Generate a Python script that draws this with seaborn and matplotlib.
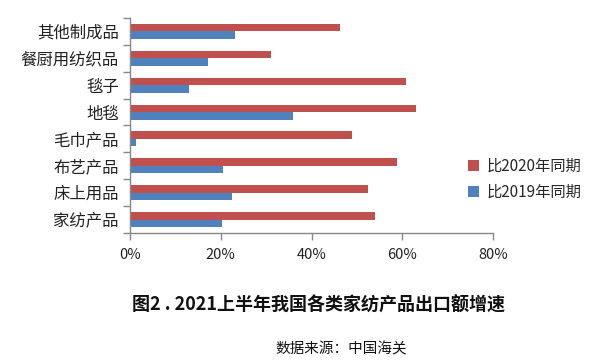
import matplotlib
matplotlib.use("Agg")
import matplotlib.pyplot as plt
import seaborn as sns
import pandas as pd
import numpy as np
from matplotlib.ticker import FixedLocator, PercentFormatter
from matplotlib.patches import Patch

categories = ["其他制成品", "餐厨用纺织品", "毯子", "地毯", "毛巾产品", "布艺产品", "床上用品", "家纺产品"]
vs2020 = [46.2, 31.0, 60.7, 63.0, 48.8, 58.7, 52.3, 54.0]
vs2019 = [23.1, 17.1, 13.0, 35.8, 1.3, 20.4, 22.4, 20.2]
series_names = ["比2020年同期", "比2019年同期"]
colors = ["#C0504D", "#4F81BD"]
xticks = [0, 20, 40, 60, 80]

df = pd.DataFrame({
    "cat": categories * 2,
    "val": vs2020 + vs2019,
    "series": [series_names[0]] * len(categories) + [series_names[1]] * len(categories),
})

sns.set_theme(style="white")
plt.rcParams["font.family"] = ["Noto Sans CJK SC", "DejaVu Sans"]

fig = plt.figure(figsize=(6, 3.6), dpi=100)
ax = fig.add_axes([0.2167, 0.3528, 0.6055, 0.5972])

sns.barplot(data=df, x="val", y="cat", hue="series", order=categories,
            hue_order=series_names, palette=colors, orient="h",
            width=0.56, ax=ax, saturation=1, legend=False, linewidth=0)

ax.set_xlim(0, 80)
ax.set_ylim(len(categories) - 0.5, -0.5)
ax.set_xticks(xticks)
ax.xaxis.set_major_formatter(PercentFormatter(decimals=0))
ax.set_xlabel("")
ax.set_ylabel("")

# y: labels at centers without ticks, ticks at boundaries
ax.tick_params(axis="y", which="major", length=0, labelsize=11.8, pad=8, colors="#222222")
ax.yaxis.set_minor_locator(FixedLocator(np.arange(-0.5, len(categories) + 0.5, 1)))
ax.tick_params(axis="y", which="minor", length=5, width=1, color="#888888", left=True)
ax.tick_params(axis="x", which="major", length=5, width=1, color="#888888", bottom=True,
               labelsize=10.5, pad=6, labelcolor="#222222")

for s in ["top", "right"]:
    ax.spines[s].set_visible(False)
for s in ["left", "bottom"]:
    ax.spines[s].set_color("#888888")
    ax.spines[s].set_linewidth(1)

handles = [Patch(facecolor=c, edgecolor="none") for c in colors]
fig.legend(handles, series_names, loc="upper left", bbox_to_anchor=(0.757, 0.6),
           frameon=False, fontsize=11, handlelength=0.75, handleheight=0.75,
           handletextpad=0.5, labelspacing=0.62)

fig.text(0.53, 0.153, "图2 . 2021上半年我国各类家纺产品出口额增速", ha="center", va="center",
         fontsize=13, fontweight="bold", color="#111111")
fig.text(0.568, 0.03, "数据来源：中国海关", ha="center", va="center",
         fontsize=10.5, color="#111111")

fig.savefig("out.png", dpi=100, facecolor="white")
